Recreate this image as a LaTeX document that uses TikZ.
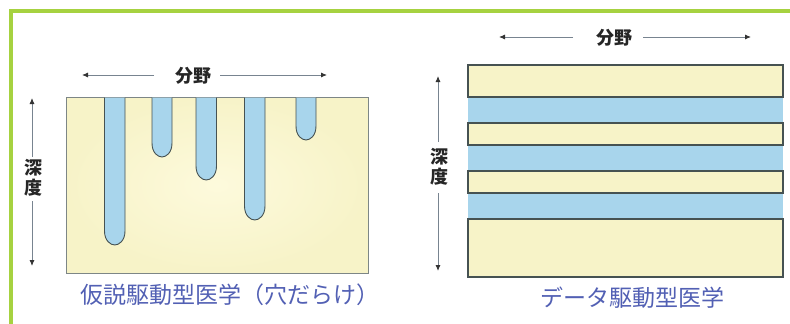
\documentclass[tikz,border=0pt]{standalone}
\usepackage{fontspec}
\newfontfamily\jp{Noto Sans CJK JP}
\usetikzlibrary{arrows.meta}
\definecolor{frameg}{RGB}{166,210,64}
\definecolor{cream}{RGB}{247,243,200}
\definecolor{creamlt}{RGB}{253,250,220}
\definecolor{skyb}{RGB}{168,213,236}
\definecolor{edge}{RGB}{70,82,82}
\definecolor{edgelt}{RGB}{125,134,134}
\definecolor{capblue}{RGB}{82,96,180}
\definecolor{arrline}{RGB}{120,132,144}
\tikzset{
  arr/.style={draw=arrline,line width=0.9pt,-{Latex[length=6pt,width=5pt,color=black!80]}},
  axislabel/.style={font=\jp\bfseries\fontsize{18}{19.5}\selectfont,text=black!85,inner sep=0pt,align=center},
  caption/.style={font=\jp\fontsize{23}{25}\selectfont,text=capblue,inner sep=0pt},
  band/.style={draw=edge,line width=1.3pt,fill=cream},
  bluebnd/.style={fill=skyb},
}
\newcommand{\fingerpath}[3]{%
  \fill[skyb] (#1,97.5) -- (#1,#3-14) .. controls (#1,#3-4) and ({(#1+#2)/2-4},#3) .. ({(#1+#2)/2},#3) .. controls ({(#1+#2)/2+4},#3) and (#2,#3-4) .. (#2,#3-14) -- (#2,97.5) -- cycle;
  \draw[edge,line width=0.9pt] (#1,97.5) -- (#1,#3-14) .. controls (#1,#3-4) and ({(#1+#2)/2-4},#3) .. ({(#1+#2)/2},#3) .. controls ({(#1+#2)/2+4},#3) and (#2,#3-4) .. (#2,#3-14) -- (#2,97.5);
}
\begin{document}
\begin{tikzpicture}[x=1pt,y=-1pt]
\useasboundingbox (0,0) rectangle (790,324);
\fill[white] (0,0) rectangle (790,324);
% green frame corner
\fill[frameg] (8.5,8.5) rectangle (790,13);
\fill[frameg] (8.5,8.5) rectangle (13,324);

% ---------- left panel ----------
\shade[inner color=creamlt,outer color=cream] (66,97) rectangle (368,273);
\draw[edgelt,line width=0.8pt] (66,97) rectangle (368,273);
\fingerpath{104.5}{125}{245}
\fingerpath{152}{172}{157}
\fingerpath{196}{216.5}{180}
\fingerpath{244.5}{265}{220}
\fingerpath{296}{316}{140}

\node[axislabel] (fieldL) at (193,76) {分野};
\coordinate (fieldLa) at (154,75);
\coordinate (fieldLb) at (220,75);
\coordinate (fieldLtipA) at (82,75);
\coordinate (fieldLtipB) at (327,75);
\draw[arr] (fieldLa) -- (fieldLtipA);
\draw[arr] (fieldLb) -- (fieldLtipB);

\node[axislabel] (depthL) at (33,178) {深\\度};
\coordinate (depthLa) at (32,157);
\coordinate (depthLb) at (32,201);
\coordinate (depthLtipA) at (32,98);
\coordinate (depthLtipB) at (32,266);
\draw[arr] (depthLa) -- (depthLtipA);
\draw[arr] (depthLb) -- (depthLtipB);

\node[caption] (capL) at (230,295) {仮説駆動型医学（穴だらけ）};

% ---------- right panel ----------
\fill[bluebnd] (468,97) rectangle (783,123);
\fill[bluebnd] (468,145) rectangle (783,171);
\fill[bluebnd] (468,193) rectangle (783,219);
\draw[band] (468,65) rectangle (783,97);
\draw[band] (468,123) rectangle (783,145);
\draw[band] (468,171) rectangle (783,193);
\draw[band] (468,219) rectangle (783,277);

\node[axislabel] (fieldR) at (614,38) {分野};
\coordinate (fieldRa) at (573,37);
\coordinate (fieldRb) at (643,37);
\coordinate (fieldRtipA) at (499,37);
\coordinate (fieldRtipB) at (751,37);
\draw[arr] (fieldRa) -- (fieldRtipA);
\draw[arr] (fieldRb) -- (fieldRtipB);

\node[axislabel] (depthR) at (439,167) {深\\度};
\coordinate (depthRa) at (438,142);
\coordinate (depthRb) at (438,193);
\coordinate (depthRtipA) at (438,76);
\coordinate (depthRtipB) at (438,271);
\draw[arr] (depthRa) -- (depthRtipA);
\draw[arr] (depthRb) -- (depthRtipB);

\node[caption] (capR) at (632,298) {データ駆動型医学};
\end{tikzpicture}
\end{document}
